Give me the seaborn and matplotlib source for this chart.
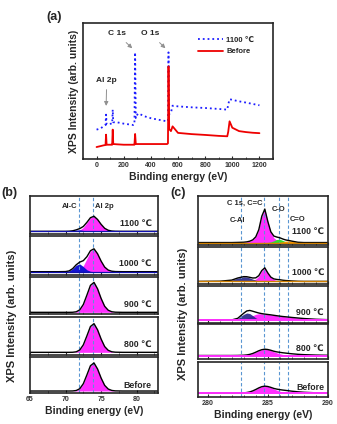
import numpy as np
import matplotlib
matplotlib.use("Agg")
import matplotlib.pyplot as plt
import seaborn as sns
from matplotlib.ticker import MultipleLocator

# (a) survey spectra, intensity in arbitrary units (0-100 of the frame)
SURVEY_BE = [0, 30, 50, 66, 70, 74, 110, 115, 119, 123, 150, 200, 270, 279, 284, 289,
             300, 310, 350, 400, 450, 520, 526, 530, 535, 548, 560, 600, 700, 800,
             900, 963, 970, 980, 1000, 1050, 1100, 1150, 1200]
SURVEY_1100 = [21.6, 22.5, 24, 25, 32.6, 25.5, 26, 26, 36.3, 27, 27, 26, 25, 25.5, 78.4, 30,
               32.6, 33.5, 31.5, 30, 29, 27.7, 28, 78.4, 33, 34, 39.2, 38.7, 38, 37.5,
               36.8, 36.3, 40, 44, 43.5, 42.4, 41.5, 40.5, 39.5]
SURVEY_BEFORE = [8.8, 9.5, 10, 10.3, 17.9, 10.5, 10.5, 10.5, 21.6, 11, 10.8, 10.5, 10.5, 10.5, 18.4, 11,
                 11, 11, 11, 11, 11, 11, 11.5, 68.1, 22, 20.5, 24, 19.2, 18.3, 17.7,
                 17, 16.7, 20, 27.7, 23, 20.5, 19.8, 19.3, 19]

# (b) Al 2p region, heights above baseline (fraction of each frame)
BE_B = [65, 69, 70, 70.5, 71, 71.5, 72, 72.5, 73, 73.5, 74, 74.5, 75, 75.5, 76, 76.5, 77, 78, 83]
B_LABELS = ["1100 ℃", "1000 ℃", "900 ℃", "800 ℃", "Before"]
B_BASE = [0.07, 0.085, 0.045, 0.07, 0.055]
B1100_AL2P = [0, 0, 0, 0, 0.001, 0.007, 0.033, 0.104, 0.228, 0.358, 0.397, 0.312, 0.184, 0.08, 0.028, 0.008, 0.002, 0, 0]
B1100_ALC = [0, 0, 0, 0.003, 0.013, 0.032, 0.04, 0.024, 0.008, 0.001, 0, 0, 0, 0, 0, 0, 0, 0, 0]
B1000_AL2P = [0, 0, 0, 0, 0.002, 0.011, 0.048, 0.153, 0.336, 0.528, 0.586, 0.46, 0.271, 0.118, 0.041, 0.012, 0.003, 0, 0]
B1000_ALC = [0, 0, 0.003, 0.02, 0.076, 0.166, 0.198, 0.13, 0.048, 0.01, 0.001, 0, 0, 0, 0, 0, 0, 0, 0]
B900_AL2P = [0, 0, 0, 0, 0.002, 0.015, 0.067, 0.212, 0.465, 0.729, 0.809, 0.636, 0.375, 0.163, 0.057, 0.016, 0.004, 0, 0]
B800_AL2P = [0, 0, 0, 0, 0.002, 0.014, 0.062, 0.198, 0.433, 0.68, 0.755, 0.593, 0.35, 0.152, 0.053, 0.015, 0.004, 0, 0]
BBEF_AL2P = [0, 0, 0, 0, 0.002, 0.014, 0.064, 0.204, 0.447, 0.703, 0.78, 0.612, 0.361, 0.157, 0.055, 0.016, 0.004, 0, 0]
B_LINES = [71.9, 73.8]

# (c) C 1s region
BE_C = [279, 281, 282, 282.5, 283, 283.25, 283.5, 283.75, 284, 284.25, 284.5, 284.75, 285,
        285.25, 285.5, 285.75, 286, 286.25, 286.5, 286.75, 287, 287.5, 288, 289, 290]
C_LABELS = ["1100 ℃", "1000 ℃", "900 ℃", "800 ℃", "Before"]
C_BASE = [0.05, 0.07, 0.08, 0.1, 0.11]
C1100_CC = [0, 0, 0, 0.003, 0.007, 0.014, 0.028, 0.055, 0.117, 0.262, 0.538, 0.683, 0.428,
            0.207, 0.097, 0.048, 0.024, 0.014, 0.007, 0.003, 0, 0, 0, 0, 0]
C1100_CO = [0, 0, 0, 0, 0, 0, 0, 0, 0, 0, 0, 0, 0.003,
            0.013, 0.036, 0.064, 0.067, 0.042, 0.016, 0.004, 0, 0, 0, 0, 0]
C1100_CDO = [0, 0, 0, 0, 0, 0, 0, 0, 0, 0, 0, 0, 0,
             0, 0, 0, 0.006, 0.016, 0.029, 0.035, 0.029, 0.006, 0, 0, 0]
C1000_CC = [0, 0, 0, 0.002, 0.004, 0.007, 0.015, 0.03, 0.063, 0.141, 0.289, 0.366, 0.229,
            0.111, 0.052, 0.026, 0.013, 0.007, 0.004, 0.002, 0, 0, 0, 0, 0]
C1000_CAL = [0, 0.005, 0.035, 0.09, 0.125, 0.12, 0.095, 0.062, 0.033, 0.014, 0.005, 0.001, 0,
             0, 0, 0, 0, 0, 0, 0, 0, 0, 0, 0, 0]
C1000_CO = [0, 0, 0, 0, 0, 0, 0, 0, 0, 0, 0, 0, 0,
            0.005, 0.016, 0.027, 0.029, 0.018, 0.007, 0.002, 0, 0, 0, 0, 0]
C1000_CDO = [0, 0, 0, 0, 0, 0, 0, 0, 0, 0, 0, 0, 0,
             0, 0, 0, 0.003, 0.007, 0.012, 0.015, 0.012, 0.003, 0, 0, 0]
C900_CC = [0, 0, 0, 0.006, 0.03, 0.055, 0.085, 0.12, 0.155, 0.17, 0.168, 0.16, 0.15,
           0.14, 0.128, 0.116, 0.105, 0.095, 0.087, 0.079, 0.07, 0.055, 0.041, 0.021, 0.01]
C900_CAL = [0, 0, 0.003, 0.04, 0.155, 0.19, 0.175, 0.118, 0.058, 0.02, 0.005, 0.001, 0,
            0, 0, 0, 0, 0, 0, 0, 0, 0, 0, 0, 0]
C800_CC = [0, 0, 0, 0.002, 0.008, 0.016, 0.032, 0.058, 0.095, 0.135, 0.166, 0.18, 0.171,
           0.144, 0.108, 0.076, 0.05, 0.03, 0.016, 0.008, 0.004, 0, 0, 0, 0]
C800_REST = [0, 0, 0, 0, 0, 0, 0, 0, 0, 0, 0, 0, 0,
             0.005, 0.014, 0.027, 0.04, 0.048, 0.052, 0.05, 0.045, 0.034, 0.024, 0.012, 0.006]
CBEF_CC = [0, 0, 0, 0.002, 0.008, 0.018, 0.035, 0.065, 0.105, 0.15, 0.185, 0.2, 0.19,
           0.16, 0.12, 0.085, 0.055, 0.033, 0.018, 0.009, 0.004, 0, 0, 0, 0]
CBEF_REST = [0, 0, 0, 0, 0, 0, 0, 0, 0, 0, 0, 0, 0,
             0.005, 0.015, 0.03, 0.045, 0.055, 0.06, 0.058, 0.052, 0.038, 0.025, 0.01, 0.004]
C_LINES = [282.8, 284.7, 285.9, 286.7]

sns.set_style("ticks")
plt.rcParams['font.family'] = ['Liberation Sans', 'DejaVu Sans']
plt.rcParams['font.weight'] = 'bold'
plt.rcParams['axes.labelweight'] = 'bold'
plt.rcParams['xtick.direction'] = 'in'
plt.rcParams['xtick.major.size'] = 2.5
plt.rcParams['xtick.minor.size'] = 1.5
plt.rcParams['axes.linewidth'] = 1.2

W, H = 337, 424
fig = plt.figure(figsize=(W / 100, H / 100), dpi=100)


def box(l, t, r, b):
    return [l / W, 1 - b / H, (r - l) / W, (b - t) / H]


MAGENTA = '#ff30ff'
DASH = '#5a96d2'

# ---------- (a) ----------
axa = fig.add_axes(box(83, 23, 273, 159))
sns.lineplot(x=SURVEY_BE, y=SURVEY_1100, ax=axa, color='#1c1cff', lw=1.3,
             linestyle=':', label='1100 ℃')
sns.lineplot(x=SURVEY_BE, y=SURVEY_BEFORE, ax=axa, color='#ee0000', lw=1.3, label='Before')
axa.set_xlim(-100, 1300)
axa.set_ylim(0, 100)
axa.set_yticks([])
axa.xaxis.set_major_locator(MultipleLocator(200))
axa.xaxis.set_minor_locator(MultipleLocator(100))
axa.tick_params(axis='x', labelsize=5, pad=2, labelcolor='#333333')
axa.set_xlabel('Binding energy (eV)', fontsize=7.5, labelpad=2)
axa.set_ylabel('XPS Intensity (arb. units)', fontsize=7.5, labelpad=3)
axa.legend(loc='upper left', bbox_to_anchor=(0.57, 0.95), frameon=False, fontsize=5.5,
           handlelength=3.3, handletextpad=0.4, labelspacing=0.5)
arr = dict(arrowstyle='-|>', color='#909090', lw=0.7, mutation_scale=6)
axa.annotate('C 1s', xy=(278, 80), xytext=(150, 92), ha='center', va='center',
             fontsize=6, arrowprops=arr)
axa.annotate('O 1s', xy=(522, 80), xytext=(398, 92), ha='center', va='center',
             fontsize=6, arrowprops=arr)
axa.annotate('Al 2p', xy=(70, 37), xytext=(75, 58), ha='center', va='center',
             fontsize=6, arrowprops=arr)
fig.text(46 / W, 1 - 17 / H, '(a)', fontsize=9, weight='bold', va='center')

# ---------- (b) ----------
b_rows = [(196, 234), (236, 275), (277, 314), (317, 355), (357, 393)]
b_al2p = [B1100_AL2P, B1000_AL2P, B900_AL2P, B800_AL2P, BBEF_AL2P]
b_alc = [B1100_ALC, B1000_ALC, None, None, None]
b_text_y = [0.28, 0.3, 0.26, 0.29, 0.22]
for i, (t, b) in enumerate(b_rows):
    ax = fig.add_axes(box(30, t, 158, b))
    base = B_BASE[i]
    al2p = base + np.array(b_al2p[i])
    env = al2p.copy()
    ax.fill_between(BE_B, base, al2p, color=MAGENTA, lw=0)
    if b_alc[i] is not None:
        alc = np.array(b_alc[i])
        env = env + alc
        ax.fill_between(BE_B, base, base + alc, color='#1414d2', lw=0)
    for xv in B_LINES:
        ax.axvline(xv, color=DASH, lw=0.8, dashes=(3, 2))
    sns.lineplot(x=BE_B, y=env, ax=ax, color='black', lw=1.0)
    if b_alc[i] is not None:
        ax.axhline(base, color='#1010b0', lw=0.9)
    ax.set_xlim(65, 83)
    ax.set_ylim(0, 1)
    ax.set_yticks([])
    ax.xaxis.set_major_locator(MultipleLocator(5))
    ax.xaxis.set_minor_locator(MultipleLocator(2.5))
    ax.text(0.95, b_text_y[i], B_LABELS[i], transform=ax.transAxes, ha='right',
            va='center', fontsize=6.3)
    if i == 4:
        ax.tick_params(axis='x', labelsize=5, pad=2, labelcolor='#333333')
        ax.set_xlabel('Binding energy (eV)', fontsize=7.5, labelpad=2)
    else:
        ax.tick_params(axis='x', labelbottom=False)
    if i == 0:
        ax.text(71.6, 0.72, 'Al-C', ha='right', va='center', fontsize=5.5)
        ax.text(74.2, 0.72, 'Al 2p', ha='left', va='center', fontsize=5.5)
fig.text(12 / W, 1 - 316 / H, 'XPS Intensity (arb. units)', rotation=90,
         ha='center', va='center', fontsize=8, weight='bold')
fig.text(1 / W, 1 - 193 / H, '(b)', fontsize=9, weight='bold', va='center')

# ---------- (c) ----------
c_rows = [(196, 245), (247, 284), (286, 323), (324, 359), (362, 397)]
c_cc = [C1100_CC, C1000_CC, C900_CC, C800_CC, CBEF_CC]
c_cal = [None, C1000_CAL, C900_CAL, None, None]
c_co = [C1100_CO, C1000_CO, None, None, None]
c_cdo = [C1100_CDO, C1000_CDO, None, None, None]
c_rest = [None, None, None, C800_REST, CBEF_REST]
c_text_y = [0.27, 0.3, 0.28, 0.3, 0.26]
for i, (t, b) in enumerate(c_rows):
    ax = fig.add_axes(box(198, t, 328, b))
    base = C_BASE[i]
    env = np.zeros(len(BE_C))
    cc = np.array(c_cc[i])
    env += cc
    ax.fill_between(BE_C, base, base + cc, color=MAGENTA, lw=0)
    if c_cal[i] is not None:
        cal = np.array(c_cal[i])
        env += cal
        ax.fill_between(BE_C, base, base + cal, color='#24248a', lw=0, alpha=0.9)
    if c_co[i] is not None:
        co = np.array(c_co[i])
        env += co
        ax.fill_between(BE_C, base, base + co, color='#33dd33', lw=0)
    if c_cdo[i] is not None:
        cdo = np.array(c_cdo[i])
        env += cdo
        ax.fill_between(BE_C, base, base + cdo, color='#ff9a00', lw=0)
    if c_rest[i] is not None:
        env += np.array(c_rest[i])
    for xv in C_LINES:
        ax.axvline(xv, color=DASH, lw=0.8, dashes=(3, 2))
    sns.lineplot(x=BE_C, y=base + env, ax=ax, color='black', lw=1.0)
    ax.axhline(base, color='#d08000' if i < 2 else MAGENTA, lw=1.0 if i < 2 else 1.4)
    ax.set_xlim(279.2, 290)
    ax.set_ylim(0, 1)
    ax.set_yticks([])
    ax.xaxis.set_major_locator(MultipleLocator(5))
    ax.xaxis.set_minor_locator(MultipleLocator(1))
    ax.text(0.97, c_text_y[i], C_LABELS[i], transform=ax.transAxes, ha='right',
            va='center', fontsize=6.3)
    if i == 4:
        ax.tick_params(axis='x', labelsize=5, pad=2, labelcolor='#333333')
        ax.set_xlabel('Binding energy (eV)', fontsize=7.5, labelpad=2)
    else:
        ax.tick_params(axis='x', labelbottom=False)
    if i == 0:
        ax.text(284.55, 0.86, 'C 1s, C=C', ha='right', va='center', fontsize=5.5)
        ax.text(285.9, 0.73, 'C-O', ha='center', va='center', fontsize=5.5)
        ax.text(286.8, 0.53, 'C=O', ha='left', va='center', fontsize=5.5)
        ax.text(283.1, 0.49, 'C-Al', ha='right', va='center', fontsize=5.5)
fig.text(183 / W, 1 - 314 / H, 'XPS Intensity (arb. units)', rotation=90,
         ha='center', va='center', fontsize=8, weight='bold')
fig.text(170 / W, 1 - 193 / H, '(c)', fontsize=9, weight='bold', va='center')

fig.savefig('out.png', dpi=100)
